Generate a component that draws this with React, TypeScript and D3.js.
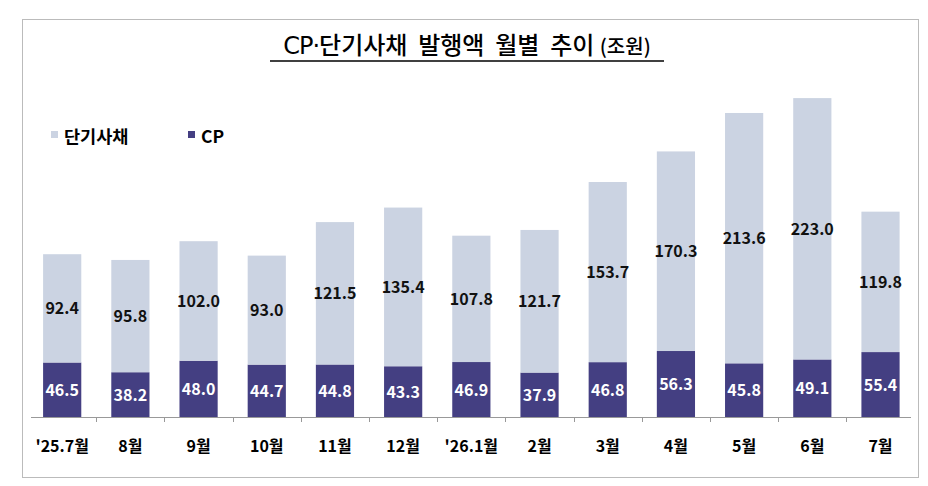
import { useEffect, useRef } from "react";
import * as d3 from "d3";

const months = ["'25.7월", "8월", "9월", "10월", "11월", "12월", "'26.1월", "2월", "3월", "4월", "5월", "6월", "7월"];
const cpValues = [46.5, 38.2, 48.0, 44.7, 44.8, 43.3, 46.9, 37.9, 46.8, 56.3, 45.8, 49.1, 55.4];
const stbValues = [92.4, 95.8, 102.0, 93.0, 121.5, 135.4, 107.8, 121.7, 153.7, 170.3, 213.6, 223.0, 119.8];

const DARK = "#443f82";
const LIGHT = "#cbd3e2";
const FONT = "'Noto Sans CJK KR', 'Noto Sans', sans-serif";

export default function App(): JSX.Element {
  const svgRef = useRef<SVGSVGElement | null>(null);

  useEffect(() => {
    if (!svgRef.current) return;
    const svg = d3.select(svgRef.current);
    svg.selectAll("*").remove();

    const baseline = 417;

    // outer dotted frame
    svg
      .append("rect")
      .attr("x", 22.5)
      .attr("y", 19.5)
      .attr("width", 896)
      .attr("height", 458)
      .attr("fill", "none")
      .attr("stroke", "#777")
      .attr("stroke-dasharray", "1,1");

    // title (double spaces kept with white-space: pre)
    const title = svg
      .append("text")
      .attr("x", 467)
      .attr("y", 54)
      .attr("text-anchor", "middle")
      .attr("font-family", FONT)
      .attr("font-weight", 500)
      .style("white-space", "pre")
      .attr("fill", "#000");
    title.append("tspan").attr("font-size", 24).attr("font-family", "'DejaVu Sans', sans-serif").attr("letter-spacing", -1).text("CP·");
    title.append("tspan").attr("font-size", 24).text("단기사채  발행액  월별  추이 ");
    title.append("tspan").attr("font-size", 20).text("(조원)");
    svg
      .append("line")
      .attr("x1", 270)
      .attr("x2", 664)
      .attr("y1", 61)
      .attr("y2", 61)
      .attr("stroke", "#000")
      .attr("stroke-width", 1.5);

    const x = d3.scaleBand<string>().domain(months).range([24, 918.7]).paddingInner(0.44).paddingOuter(0.28);
    const y = d3.scaleLinear().domain([0, 300]).range([baseline, baseline - 351.6]);

    const stacked = months.map((m, i) => ({ m, cp: cpValues[i], stb: stbValues[i] }));

    const g = svg.append("g");
    // CP segments
    g.selectAll("rect.cp")
      .data(stacked)
      .join("rect")
      .attr("class", "cp")
      .attr("x", (d) => x(d.m)!)
      .attr("width", x.bandwidth())
      .attr("y", (d) => y(d.cp))
      .attr("height", (d) => y(0) - y(d.cp))
      .attr("fill", DARK);
    // 단기사채 segments
    g.selectAll("rect.stb")
      .data(stacked)
      .join("rect")
      .attr("class", "stb")
      .attr("x", (d) => x(d.m)!)
      .attr("width", x.bandwidth())
      .attr("y", (d) => y(d.cp + d.stb))
      .attr("height", (d) => y(d.cp) - y(d.cp + d.stb))
      .attr("fill", LIGHT);

    g.selectAll("text.cpl")
      .data(stacked)
      .join("text")
      .attr("class", "cpl")
      .attr("x", (d) => x(d.m)! + x.bandwidth() / 2)
      .attr("y", (d) => (y(0) + y(d.cp)) / 2 + 6)
      .attr("text-anchor", "middle")
      .attr("font-family", FONT)
      .attr("font-weight", 700)
      .attr("font-size", 16)
      .attr("fill", "#fff")
      .text((d) => d.cp.toFixed(1));

    g.selectAll("text.stbl")
      .data(stacked)
      .join("text")
      .attr("class", "stbl")
      .attr("x", (d) => x(d.m)! + x.bandwidth() / 2)
      .attr("y", (d) => (y(d.cp) + y(d.cp + d.stb)) / 2 + 6)
      .attr("text-anchor", "middle")
      .attr("font-family", FONT)
      .attr("font-weight", 700)
      .attr("font-size", 16)
      .attr("fill", "#111")
      .text((d) => d.stb.toFixed(1));

    // x axis
    const axis = svg.append("g").attr("stroke", "#999");
    axis.append("line").attr("x1", 31).attr("x2", 911).attr("y1", baseline + 0.5).attr("y2", baseline + 0.5);
    const step = x.step();
    axis
      .selectAll("line.tick")
      .data(months.slice(1))
      .join("line")
      .attr("class", "tick")
      .attr("x1", (d) => Math.round(x(d)! - (step - x.bandwidth()) / 2) + 0.5)
      .attr("x2", (d) => Math.round(x(d)! - (step - x.bandwidth()) / 2) + 0.5)
      .attr("y1", baseline)
      .attr("y2", baseline + 5);

    svg
      .append("g")
      .selectAll("text")
      .data(months)
      .join("text")
      .attr("x", (d) => x(d)! + x.bandwidth() / 2)
      .attr("y", 452)
      .attr("text-anchor", "middle")
      .attr("font-family", FONT)
      .attr("font-weight", 700)
      .attr("font-size", 16)
      .attr("fill", "#000")
      .text((d) => d);

    // legend
    const legend = [
      { label: "단기사채", color: LIGHT, x: 51 },
      { label: "CP", color: DARK, x: 188 },
    ];
    const lg = svg.append("g").selectAll("g").data(legend).join("g").attr("transform", (d) => `translate(${d.x},131)`);
    lg.append("rect").attr("width", 7).attr("height", 7).attr("fill", (d) => d.color);
    lg.append("text")
      .attr("x", 13)
      .attr("y", 12)
      .attr("font-family", FONT)
      .attr("font-weight", 700)
      .attr("font-size", 17.5)
      .attr("fill", "#000")
      .text((d) => d.label);
  }, []);

  return (
    <svg
      ref={svgRef}
      width={928}
      height={486}
      style={{ position: "absolute", left: 0, top: 0, background: "#fff" }}
    />
  );
}
